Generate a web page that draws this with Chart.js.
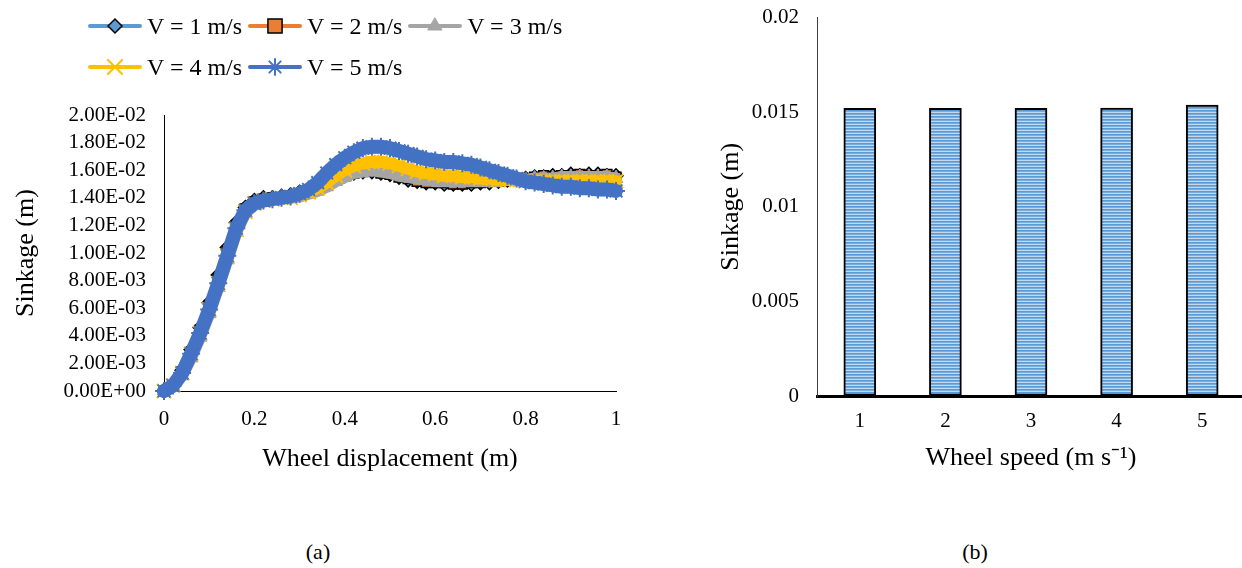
<!DOCTYPE html>
<html lang="en">
<head>
<meta charset="UTF-8">
<title>Sinkage vs wheel displacement / wheel speed</title>
<script src="https://cdn.jsdelivr.net/npm/chart.js@4.4.1/dist/chart.umd.min.js"></script>
<style>
    html, body { margin: 0; padding: 0; background: #fff; overflow: hidden; }
    body { width: 1242px; height: 568px; position: relative; font-family: "Liberation Serif", "Times New Roman", serif; color: #000; }
    #boxA { position: absolute; left: 0; top: 0; width: 640px; height: 480px; }
    /* shifted up: the y-axis adds tick padding above the top label */
    #boxB { position: absolute; left: 690px; top: -13px; width: 560px; height: 493px; }
    #legendA { position: absolute; left: 88px; top: 10px; width: 500px; display: flex; flex-wrap: wrap; }
    .item { display: flex; align-items: center; height: 32px; margin-right: 6px; margin-bottom: 9px; font-size: 24px; white-space: nowrap; }
    .item canvas { margin-right: 5px; }
    .cap { position: absolute; top: 540px; font-size: 22px; line-height: 24px; transform: translateX(-50%); }
</style>
</head>
<body>

<div id="boxA"><canvas id="chartA"></canvas></div>
<div id="legendA"></div>
<div id="boxB"><canvas id="chartB"></canvas></div>
<div class="cap" style="left:318px">(a)</div>
<div class="cap" style="left:975px">(b)</div>

<script>
    // ---------------- (a) sinkage vs wheel displacement ----------------
    var xDisp = [0, 0.02, 0.04, 0.06, 0.08, 0.1, 0.12, 0.14, 0.16, 0.18, 0.2, 0.22, 0.24, 0.26, 0.28,
        0.3, 0.32, 0.34, 0.36, 0.38, 0.4, 0.42, 0.44, 0.46, 0.48,
        0.5, 0.52, 0.54, 0.56, 0.58, 0.6, 0.62, 0.64, 0.66, 0.68,
        0.7, 0.72, 0.74, 0.76, 0.78, 0.8, 0.82, 0.84, 0.86, 0.88,
        0.9, 0.92, 0.94, 0.96, 0.98, 1];

    var sinkV1 = [0, 0.0005, 0.0015, 0.0030, 0.0046, 0.0064, 0.0084, 0.0104, 0.0122, 0.0133, 0.0138, 0.0140, 0.0140, 0.0141, 0.0142,
        0.0144, 0.0145, 0.0147, 0.0150, 0.0153, 0.0156, 0.0158, 0.0159, 0.0159, 0.0158,
        0.0157, 0.0155, 0.0153, 0.0152, 0.0151, 0.0151, 0.0150, 0.0150, 0.0150, 0.0150,
        0.0151, 0.0151, 0.0152, 0.0153, 0.0154, 0.0154, 0.0155, 0.0155, 0.0156, 0.0156,
        0.0157, 0.0156, 0.0157, 0.0157, 0.0156, 0.0156];
    var sinkV2 = [0, 0.0004, 0.0014, 0.0028, 0.0044, 0.0062, 0.0081, 0.0101, 0.0120, 0.0132, 0.0137, 0.0139, 0.0140, 0.0140, 0.0141,
        0.0143, 0.0145, 0.0146, 0.0149, 0.0153, 0.0156, 0.0158, 0.0159, 0.0160, 0.0158,
        0.0157, 0.0155, 0.0154, 0.0152, 0.0151, 0.0151, 0.0151, 0.0150, 0.0150, 0.0151,
        0.0151, 0.0152, 0.0152, 0.0153, 0.0153, 0.0154, 0.0155, 0.0156, 0.0155, 0.0156,
        0.0156, 0.0157, 0.0156, 0.0156, 0.0157, 0.0155];
    var sinkV3 = [0, 0.0003, 0.0011, 0.0024, 0.0039, 0.0056, 0.0075, 0.0095, 0.0115, 0.0129, 0.0135, 0.0138, 0.0139, 0.0140, 0.0140,
        0.0141, 0.0143, 0.0145, 0.0148, 0.0152, 0.0155, 0.0158, 0.0159, 0.0160, 0.0159,
        0.0158, 0.0156, 0.0155, 0.0154, 0.0153, 0.0152, 0.0152, 0.0152, 0.0152, 0.0152,
        0.0152, 0.0152, 0.0152, 0.0153, 0.0153, 0.0153, 0.0154, 0.0154, 0.0154, 0.0155,
        0.0155, 0.0155, 0.0155, 0.0155, 0.0155, 0.0154];
    var sinkV4 = [0, 0.0004, 0.0013, 0.0027, 0.0042, 0.0059, 0.0078, 0.0098, 0.0117, 0.0130, 0.0136, 0.0138, 0.0139, 0.0140, 0.0140,
        0.0142, 0.0144, 0.0147, 0.0151, 0.0156, 0.0160, 0.0163, 0.0165, 0.0166, 0.0166,
        0.0165, 0.0163, 0.0161, 0.0159, 0.0158, 0.0157, 0.0156, 0.0156, 0.0155, 0.0155,
        0.0154, 0.0154, 0.0153, 0.0153, 0.0153, 0.0152, 0.0152, 0.0152, 0.0152, 0.0152,
        0.0152, 0.0152, 0.0152, 0.0152, 0.0152, 0.0152];
    var sinkV5 = [0, 0.0004, 0.0013, 0.0027, 0.0042, 0.0059, 0.0078, 0.0098, 0.0118, 0.0131, 0.0136, 0.0138, 0.0139, 0.0140, 0.0141,
        0.0143, 0.0146, 0.0151, 0.0158, 0.0164, 0.0169, 0.0173, 0.0176, 0.0177, 0.0177,
        0.0176, 0.0174, 0.0172, 0.0170, 0.0168, 0.0167, 0.0166, 0.0166, 0.0165, 0.0164,
        0.0162, 0.0160, 0.0158, 0.0156, 0.0154, 0.0152, 0.0151, 0.0150, 0.0149, 0.0148,
        0.0148, 0.0147, 0.0147, 0.0146, 0.0146, 0.0145];

    var seriesNames = ["V = 1 m/s", "V = 2 m/s", "V = 3 m/s", "V = 4 m/s", "V = 5 m/s"];
    var xTickLabelsA = ["0", "0.2", "0.4", "0.6", "0.8", "1"];
    var yTickLabelsA = ["0.00E+00", "2.00E-03", "4.00E-03", "6.00E-03", "8.00E-03", "1.00E-02",
        "1.20E-02", "1.40E-02", "1.60E-02", "1.80E-02", "2.00E-02"];

    // ---------------- (b) sinkage vs wheel speed ----------------
    var speedLabels = ["1", "2", "3", "4", "5"];
    var sinkBySpeed = [0.0152, 0.0152, 0.0152, 0.01522, 0.01538];
    var yTickLabelsB = ["0", "0.005", "0.01", "0.015", "0.02"];

    // series styles, index matches seriesNames
    // lw = width of the plotted line (thick, the dense markers in the original read as a band)
    var styles = [
        {line: "#5B9BD5", fill: "#5B9BD5", edge: "#000000", shape: "rectRot", r: 7, bw: 1.5, lw: 3},
        {line: "#ED7D31", fill: "#ED7D31", edge: "#000000", shape: "rect", r: 7, bw: 1.5, lw: 3},
        {line: "#A5A5A5", fill: "#A5A5A5", edge: "#A5A5A5", shape: "triangle", r: 8, bw: 1, lw: 12},
        {line: "#FFC000", fill: "#FFC000", edge: "#FFC000", shape: "crossRot", r: 10, bw: 2, lw: 12},
        {line: "#4472C4", fill: "#4472C4", edge: "#4472C4", shape: "star", r: 9, bw: 2, lw: 14}
    ];
    var legendRadius = [7, 10, 8, 10, 8];
    var allSeries = [sinkV1, sinkV2, sinkV3, sinkV4, sinkV5];

    var serif = "'Liberation Serif', 'Times New Roman', serif";
    Chart.defaults.font.family = serif;
    Chart.defaults.color = "#000";

    var datasetsA = allSeries.map(function (vals, i) {
        var s = styles[i];
        return {
            label: seriesNames[i],
            data: xDisp.map(function (x, k) { return {x: x, y: vals[k]}; }),
            borderColor: s.line,
            borderWidth: s.lw,
            borderJoinStyle: "round",
            borderCapStyle: "round",
            pointStyle: s.shape,
            pointRadius: s.r,
            pointBorderWidth: s.bw,
            pointBackgroundColor: s.fill,
            pointBorderColor: s.edge,
            order: 5 - i,      // V = 5 drawn on top
            clip: false
        };
    });

    new Chart(document.getElementById("chartA"), {
        type: "line",
        data: {datasets: datasetsA},
        options: {
            responsive: true,
            maintainAspectRatio: false,
            animation: false,
            layout: {padding: {left: 0, top: 115, right: 24, bottom: 0}},
            plugins: {legend: {display: false}, tooltip: {enabled: false}},
            scales: {
                x: {
                    type: "linear", min: 0, max: 1,
                    afterFit: function (s) { s.height = 89; },
                    ticks: {stepSize: 0.2, padding: 16, font: {size: 21}, autoSkip: false, maxRotation: 0,
                        callback: function (v, i) { return xTickLabelsA[i]; }},
                    grid: {drawOnChartArea: false, drawTicks: false},
                    border: {color: "#000", width: 1},
                    title: {display: true, text: "Wheel displacement (m)", font: {size: 26}, padding: {top: 0, bottom: 5}}
                },
                y: {
                    min: 0, max: 0.02,
                    afterFit: function (s) { s.width = 164; },
                    ticks: {stepSize: 0.002, padding: 18, font: {size: 21}, autoSkip: false,
                        callback: function (v, i) { return yTickLabelsA[i]; }},
                    grid: {drawOnChartArea: false, drawTicks: false},
                    border: {color: "#000", width: 1},
                    title: {display: true, text: "Sinkage (m)", font: {size: 26}, padding: {top: 11, bottom: 0}}
                }
            }
        }
    });

    // legend for (a): line + marker sample, then text
    var legendBox = document.getElementById("legendA");
    seriesNames.forEach(function (name, i) {
        var s = styles[i];
        var item = document.createElement("div");
        item.className = "item";
        var c = document.createElement("canvas");
        c.width = 54; c.height = 24;
        var ctx = c.getContext("2d");
        ctx.strokeStyle = s.line;
        ctx.lineWidth = 4;
        ctx.lineCap = "round";
        ctx.beginPath(); ctx.moveTo(2, 12); ctx.lineTo(52, 12); ctx.stroke();
        ctx.fillStyle = s.fill;
        ctx.strokeStyle = s.edge;
        ctx.lineWidth = s.bw;
        Chart.helpers.drawPoint(ctx, {pointStyle: s.shape, radius: legendRadius[i], borderWidth: s.bw, rotation: 0}, 27, 12);
        item.appendChild(c);
        var t = document.createElement("span");
        t.textContent = name;
        item.appendChild(t);
        legendBox.appendChild(item);
    });

    // ---------------- (b) bar chart ----------------
    var pc = document.createElement("canvas");
    pc.width = 4; pc.height = 3;
    var pctx = pc.getContext("2d");
    pctx.fillStyle = "#5B9BD5"; pctx.fillRect(0, 0, 4, 1);
    pctx.fillStyle = "#78ADE0"; pctx.fillRect(0, 1, 4, 1);
    pctx.fillStyle = "#C2DAF1"; pctx.fillRect(0, 2, 4, 1);
    var stripe = document.getElementById("chartB").getContext("2d").createPattern(pc, "repeat");

    new Chart(document.getElementById("chartB"), {
        type: "bar",
        data: {
            labels: speedLabels,
            datasets: [{
                data: sinkBySpeed,
                backgroundColor: stripe,
                borderColor: "#000",
                borderWidth: 2,
                borderSkipped: false,
                barThickness: 32
            }]
        },
        options: {
            responsive: true,
            maintainAspectRatio: false,
            animation: false,
            layout: {padding: {left: 0, top: 0, right: 5, bottom: 0}},
            plugins: {legend: {display: false}, tooltip: {enabled: false}},
            scales: {
                x: {
                    afterFit: function (s) { s.height = 84; },
                    ticks: {padding: 13, font: {size: 21}},
                    grid: {drawOnChartArea: false, drawTicks: false},
                    border: {color: "#000", width: 3},
                    title: {display: true, text: "Wheel speed (m s\u207B\u00B9)", font: {size: 26}, padding: {top: 0, bottom: 6}}
                },
                y: {
                    min: 0, max: 0.02,
                    afterFit: function (s) { s.width = 127; },
                    ticks: {stepSize: 0.005, padding: 18, font: {size: 21}, autoSkip: false,
                        callback: function (v, i) { return yTickLabelsB[i]; }},
                    grid: {drawOnChartArea: false, drawTicks: false},
                    border: {color: "#404040", width: 1},
                    title: {display: true, text: "Sinkage (m)", font: {size: 26}, padding: {top: 26, bottom: 0}}
                }
            }
        }
    });
</script>
</body>
</html>
